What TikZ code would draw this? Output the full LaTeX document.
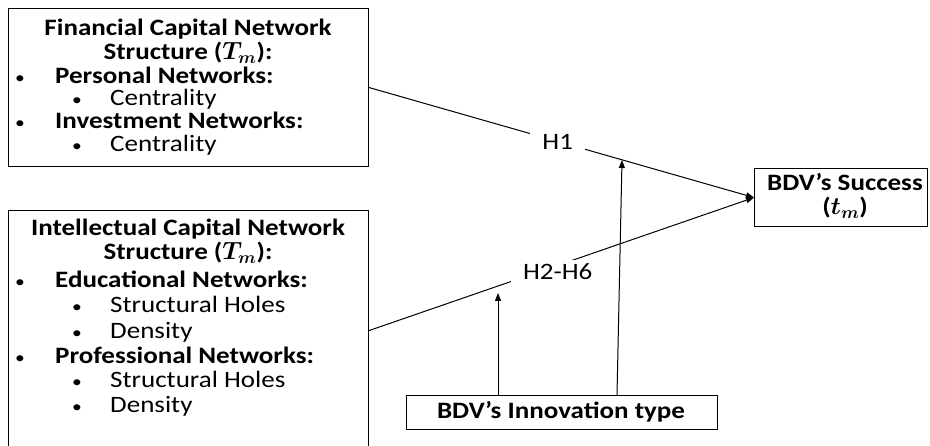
\documentclass[tikz,border=0pt]{standalone}
\usepackage{fontspec}
\setmainfont{Carlito}[FakeStretch=1.15]
\usetikzlibrary{arrows.meta}
\newcommand{\bodysize}{\fontsize{23.5}{24}\selectfont}
\tikzset{
  box/.style={draw=black, line width=1.1pt, inner sep=0pt, anchor=north west},
  line text/.style={inner sep=0pt, text height=14pt, text depth=3pt},
  txt/.style={line text, anchor=base west, font=\bodysize},
  btxt/.style={line text, anchor=base west, font=\bodysize\bfseries},
  head/.style={inner sep=0pt, anchor=base, align=center, font=\bodysize\bfseries\boldmath},
  bul/.style={line text, anchor=base, font=\fontsize{17}{20}\selectfont},
  link/.style={draw=black, line width=1pt},
  tip/.style={-{Triangle[length=8pt,width=6pt]}},
  hyp/.style={fill=white, inner xsep=12pt, inner ysep=3pt, font=\bodysize}
}
\begin{document}
\begin{tikzpicture}[x=1pt,y=-1pt]
\useasboundingbox (0,0) rectangle (930,446);
\begin{scope}
\clip (0,0) rectangle (930,446);

% Financial capital box (heading anchored at its last baseline)
\node[box, minimum width=360pt, minimum height=158pt] (fin) at (8,8) {};
\node[head] (f1) at (188,60) {Financial Capital Network\\Structure ($T_m$):};
\node[bul] at (20,84) {•};
\node[btxt] (f3) at (55,84) {Personal Networks:};
\node[bul] at (77,106) {•};
\node[txt] (f4) at (110,106) {Centrality};
\node[bul] at (20,129) {•};
\node[btxt] (f5) at (55,129) {Investment Networks:};
\node[bul] at (77,152) {•};
\node[txt] (f6) at (110,152) {Centrality};

% Intellectual capital box (runs past the lower edge)
\node[box, minimum width=360pt, minimum height=240pt] (int) at (8,210) {};
\node[head] (i1) at (188,260) {Intellectual Capital Network\\Structure ($T_m$):};
\node[bul] at (20,288) {•};
\node[btxt] (i3) at (55,288) {Educational Networks:};
\node[bul] at (77,313) {•};
\node[txt] (i4) at (110,313) {Structural Holes};
\node[bul] at (77,339) {•};
\node[txt] (i5) at (110,339) {Density};
\node[bul] at (20,364) {•};
\node[btxt] (i6) at (55,364) {Professional Networks:};
\node[bul] at (77,388) {•};
\node[txt] (i7) at (110,388) {Structural Holes};
\node[bul] at (77,413) {•};
\node[txt] (i8) at (110,413) {Density};

% Outcome box
\node[box, minimum width=173pt, minimum height=58pt] (succ) at (754,168) {};
\node[head] (s1) at (845,215) {BDV’s Success\\($t_m$)};

% Moderator box
\node[box, minimum width=311pt, minimum height=34pt] (innov) at (406,395) {};
\node[head] (n1) at (561,419) {BDV’s Innovation type};

% Hypothesis paths
\draw[link, tip] (fin.east) -- node[hyp, pos=0.49] (h1) {H1} (succ.west);
\draw[link, tip] (int.east) -- node[hyp, pos=0.49, yshift=-6pt] (h26) {H2-H6} (succ.west);

% Moderation arrows
\coordinate (m1) at (498,293);
\coordinate (m2) at (622,160);
\coordinate (m2s) at (617,395);
\draw[link, tip] (innov.north west -| m1) -- (m1);
\draw[link, tip] (m2s) -- (m2);
\end{scope}
\end{tikzpicture}
\end{document}
